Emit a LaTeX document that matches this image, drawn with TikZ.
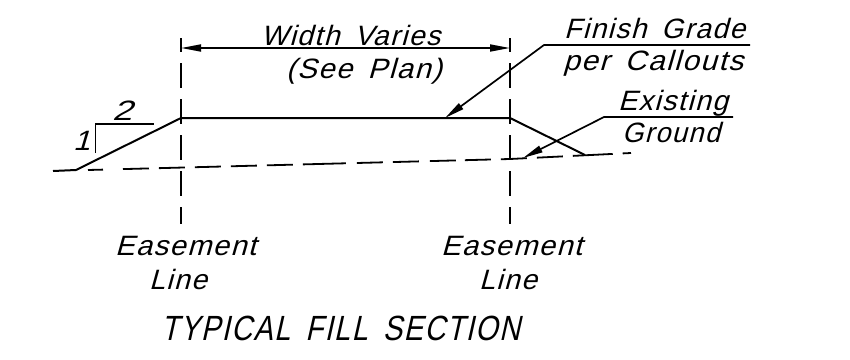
\documentclass[tikz,border=0pt]{standalone}
\usepackage{fontspec}
\usepackage{graphicx}
\usetikzlibrary{arrows.meta}
\setmainfont{Liberation Sans}
\newfontfamily\cadfont[LetterSpace=5,WordSpace=1.6,FakeSlant=0.27]{Liberation Sans}
\newcommand{\cadline}[3]{\resizebox{#1pt}{\height}{\fontsize{#2}{#2}\selectfont\cadfont #3}}
\tikzset{
  x=1pt,y=-1pt,
  lab/.style={anchor=base west,inner sep=0pt,outer sep=0pt},
  heavy/.style={line width=2pt,black},
  thin line/.style={line width=1.7pt,black},
  easement/.style={line width=1.7pt,dash pattern=on 25pt off 11pt,dash phase=11pt},
  ground/.style={line width=1.8pt,dash pattern=on 15pt off 20pt on 26pt off 10pt on 26pt off 10pt on 26pt off 10pt on 26pt off 10pt on 26pt off 10pt on 43pt off 11pt on 26pt off 10pt on 26pt off 11pt on 26pt off 9pt on 26pt off 10pt on 26pt off 10pt on 26pt off 10pt on 40pt off 10pt},
  tip/.style={-{Triangle[length=20pt,width=7pt]}}
}
\begin{document}
\begin{tikzpicture}
\useasboundingbox (0,0) rectangle (850,359);
\fill[white] (0,0) rectangle (850,359);
% points
\coordinate (elt) at (181,38);
\coordinate (elb) at (181,224);
\coordinate (ert) at (510,38);
\coordinate (erb) at (510,224);
\coordinate (dl) at (181,48);
\coordinate (dr) at (510,48);
\coordinate (tl) at (181,118);
\coordinate (tr) at (510,118);
\coordinate (toe) at (76,170);
\coordinate (stub) at (53,171);
\coordinate (rtoe) at (585,155);
\coordinate (gs) at (88,170);
\coordinate (gk) at (510,159);
\coordinate (ge) at (631,153);
\coordinate (fa) at (750,45);
\coordinate (fb) at (544,45);
\coordinate (ftip) at (445,118);
\coordinate (xa) at (733,117);
\coordinate (xb) at (604,117);
\coordinate (xtip) at (523,158);
\coordinate (s1) at (95.5,153);
\coordinate (s2) at (95.5,124);
\coordinate (s3) at (154,124);
% lines
\draw[easement] (elt) -- (elb);
\draw[easement] (ert) -- (erb);
\draw[thin line,{Triangle[length=20pt,width=7pt]}-{Triangle[length=20pt,width=7pt]}] (dl) -- (dr);
\draw[heavy] (stub) -- (toe) -- (tl) -- (tr) -- (rtoe);
\draw[ground] (gs) -- (gk) -- (ge);
\draw[thin line,tip] (fa) -- (fb) -- (ftip);
\draw[thin line,tip] (xa) -- (xb) -- (xtip);
\draw[thin line] (s1) -- (s2) -- (s3);
% text
\node[lab] (w1) at (261,45) {\cadline{179}{28}{Width Varies}};
\node[lab] (w2) at (286,78) {\cadline{156}{28}{(See Plan)}};
\node[lab] (f1) at (564,38) {\cadline{181}{28}{Finish Grade}};
\node[lab] (f2) at (563,70) {\cadline{180}{28}{per Callouts}};
\node[lab] (x1) at (618,110.5) {\cadline{110}{28}{Existing}};
\node[lab] (x2) at (622,142.5) {\cadline{98}{28}{Ground}};
\node[lab] (e1) at (115,255) {\cadline{141}{28}{Easement}};
\node[lab] (l1) at (149,289) {\cadline{58}{28}{Line}};
\node[lab] (e2) at (441,255) {\cadline{141}{28}{Easement}};
\node[lab] (l2) at (479,289) {\cadline{58}{28}{Line}};
\node[lab] (title) at (161,340) {\cadline{359}{35}{TYPICAL FILL SECTION}};
\node[lab] (one) at (73,150) {\cadline{17}{28}{1}};
\node[lab] (two) at (112,120) {\cadline{20}{28}{2}};
\end{tikzpicture}
\end{document}
